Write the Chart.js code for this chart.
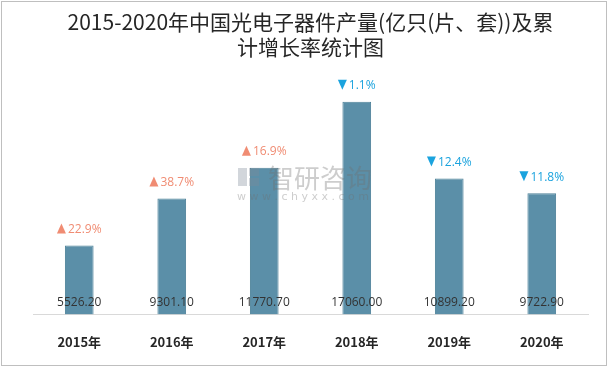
<!DOCTYPE html>
<html>
<head>
<meta charset="utf-8">
<script src="https://cdn.jsdelivr.net/npm/chart.js@4"></script>
<style>
  html, body { margin: 0; padding: 0; background: #fff; }
  #wrap { width: 610px; height: 368px; position: relative; }
</style>
</head>
<body>
<div id="wrap"><canvas id="grafico" width="610" height="368"></canvas></div>
<script>
const anos = ['2015年', '2016年', '2017年', '2018年', '2019年', '2020年'];
const producao = [5526.20, 9301.10, 11770.70, 17060.00, 10899.20, 9722.90];
const crescimento = ['22.9%', '38.7%', '16.9%', '1.1%', '12.4%', '11.8%'];
const sobe = [true, true, true, false, false, false];

const rotulos = {
  id: 'rotulos',
  afterDatasetsDraw(chart) {
    const c = chart.ctx;
    const meta = chart.getDatasetMeta(0);
    c.save();
    c.textBaseline = 'middle';
    meta.data.forEach((bar, i) => {
      // valor dentro da barra, perto da base
      c.font = '12px "Open Sans", sans-serif';
      c.fillStyle = '#333333';
      c.textAlign = 'center';
      c.fillText(producao[i].toFixed(2), bar.x, bar.base - 12);
      // taxa de crescimento acima da barra
      const cor = sobe[i] ? '#F08C73' : '#1BA3DE';
      const txt = crescimento[i];
      const w = c.measureText(txt).width + 11;
      const x0 = bar.x - w / 2;
      const y = bar.y - 17;
      c.fillStyle = cor;
      c.beginPath();
      if (sobe[i]) {
        c.moveTo(x0, y + 5); c.lineTo(x0 + 9, y + 5); c.lineTo(x0 + 4.5, y - 5);
      } else {
        c.moveTo(x0, y - 5); c.lineTo(x0 + 9, y - 5); c.lineTo(x0 + 4.5, y + 5);
      }
      c.closePath();
      c.fill();
      c.textAlign = 'left';
      c.fillText(txt, x0 + 11, y + 1);
    });
    // marca d'agua
    c.globalAlpha = 0.35;
    c.fillStyle = '#7f8a99';
    c.fillRect(238, 168, 9, 18);
    c.fillRect(249, 168, 10, 8);
    c.fillRect(249, 178, 10, 8);
    c.fillStyle = '#707070';
    c.font = '26px "Noto Sans CJK SC"';
    c.textAlign = 'left';
    c.fillText('智研咨询', 268, 178);
    c.font = '11px "DejaVu Sans"';
    c.fillText('w w w . c h y x x . c o m', 237, 197);
    c.restore();
  },
  afterDraw(chart) {
    const c = chart.ctx;
    c.save();
    c.strokeStyle = '#bfbfbf';
    c.lineWidth = 1;
    c.strokeRect(1.5, 1.5, 605, 364);
    c.restore();
  }
};

new Chart(document.getElementById('grafico'), {
  type: 'bar',
  data: {
    labels: anos,
    datasets: [{
      label: '产量',
      data: producao,
      backgroundColor: '#5B8FA8',
      borderColor: '#4E8299',
      borderWidth: 1,
      categoryPercentage: 1,
      barPercentage: 0.31
    }]
  },
  options: {
    responsive: false,
    animation: false,
    layout: { padding: { left: 33, right: 22, top: 5, bottom: 6 } },
    plugins: {
      legend: { display: false },
      tooltip: { enabled: false },
      title: {
        display: true,
        text: ['2015-2020年中国光电子器件产量(亿只(片、套))及累', '计增长率统计图'],
        color: '#262626',
        font: { family: '"Noto Sans CJK SC"', size: 21, weight: 'normal', lineHeight: 1.2 },
        padding: { top: 4, bottom: 2 }
      }
    },
    scales: {
      y: { display: false, min: 0, max: 20300 },
      x: {
        grid: { display: false },
        border: { color: '#d9d9d9' },
        ticks: { color: '#262626', font: { family: '"Noto Sans CJK SC"', size: 13, weight: 'bold' }, padding: 12 }
      }
    }
  },
  plugins: [rotulos]
});
</script>
</body>
</html>
